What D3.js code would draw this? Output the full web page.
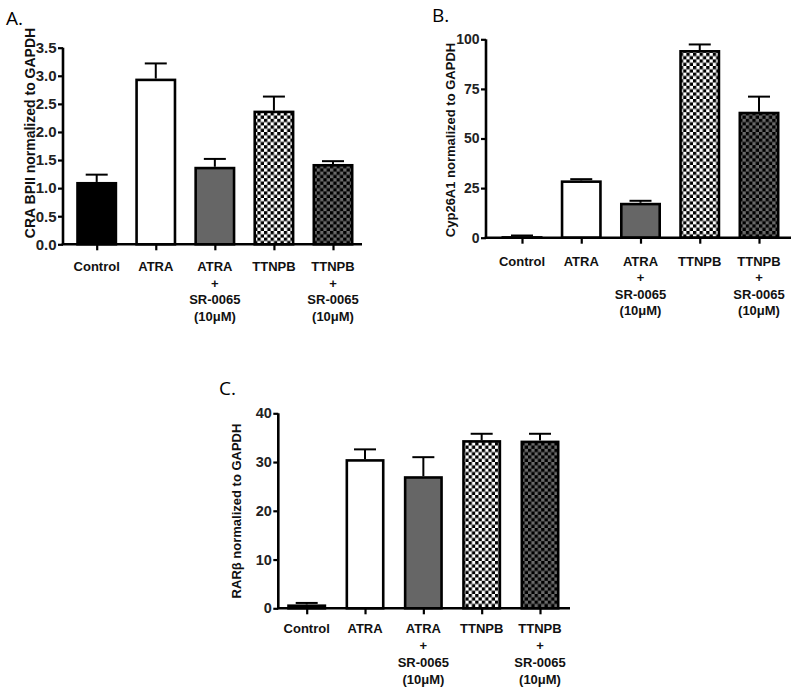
<!DOCTYPE html>
<html><head><meta charset="utf-8">
<script src="https://cdn.jsdelivr.net/npm/d3@7"></script>
<style>body{margin:0;background:#fff}svg{display:block}</style>
</head><body>
<script>
// ---- data ----
const categories = ["Control", "ATRA", "ATRA+SR", "TTNPB", "TTNPB+SR"];
const categoryLabels = [["Control"], ["ATRA"], ["ATRA", "+", "SR-0065", "(10\u03bcM)"], ["TTNPB"], ["TTNPB", "+", "SR-0065", "(10\u03bcM)"]];
const crabpiiValues = [1.11, 2.95, 1.38, 2.38, 1.43];
const crabpiiErrors = [0.13, 0.27, 0.14, 0.25, 0.05];
const crabpiiTicks = [0, 0.5, 1.0, 1.5, 2.0, 2.5, 3.0, 3.5];
const cypValues = [0.8, 28.9, 17.6, 94.6, 63.5];
const cypErrors = [0.3, 0.6, 1.0, 2.8, 7.6];
const cypTicks = [0, 25, 50, 75, 100];
const rarbValues = [0.8, 30.6, 27.1, 34.5, 34.4];
const rarbErrors = [0.3, 2.0, 3.9, 1.3, 1.4];
const rarbTicks = [0, 10, 20, 30, 40];
const fills = ["#000", "#fff", "#666", "url(#checkLight)", "url(#checkDark)"];

const svg = d3.select("body").append("svg").attr("width", 800).attr("height", 697);
const defs = svg.append("defs");
function checker(id, c1, c2, s) {
  const p = defs.append("pattern").attr("id", id).attr("patternUnits", "userSpaceOnUse")
    .attr("width", 2 * s).attr("height", 2 * s);
  p.append("rect").attr("width", 2 * s).attr("height", 2 * s).attr("fill", c2);
  p.append("rect").attr("width", s).attr("height", s).attr("fill", c1);
  p.append("rect").attr("x", s).attr("y", s).attr("width", s).attr("height", s).attr("fill", c1);
}
checker("checkLight", "#000", "#fff", 3.3);
checker("checkDark", "#000", "#6a6a6a", 3.3);

const tickFont = "'Liberation Sans', Arial, sans-serif";

function panel(o) {
  const g = svg.append("g");
  const y = d3.scaleLinear().domain([0, o.max]).range([o.yBottom, o.yTop]);
  const x = d3.scalePoint().domain(categories).range([o.c0, o.c1]);

  // bars
  const sw = 2.6;
  g.selectAll("rect.bar").data(categories).join("rect")
    .attr("x", d => x(d) - o.bw / 2 + sw / 2)
    .attr("width", o.bw - sw)
    .attr("y", (d, i) => y(o.values[i]) + sw / 2)
    .attr("height", (d, i) => Math.max(0, o.yBottom - y(o.values[i]) - sw / 2))
    .attr("fill", (d, i) => fills[i])
    .attr("stroke", "#000").attr("stroke-width", sw);

  // error bars (upper only)
  categories.forEach((d, i) => {
    const top = y(o.values[i] + o.errors[i]);
    g.append("line").attr("x1", x(d)).attr("x2", x(d))
      .attr("y1", y(o.values[i])).attr("y2", top)
      .attr("stroke", "#000").attr("stroke-width", 2);
    g.append("line").attr("x1", x(d) - 11).attr("x2", x(d) + 11)
      .attr("y1", top).attr("y2", top)
      .attr("stroke", "#000").attr("stroke-width", 2);
  });

  // y axis
  const ya = g.append("g").attr("transform", `translate(${o.axisX},0)`)
    .call(d3.axisLeft(y).tickValues(o.ticks).tickFormat(o.fmt).tickSize(5).tickPadding(1.5));
  ya.select(".domain").attr("stroke-width", 2.6).attr("d", `M0,${o.yTop}V${o.yBottom}`);
  ya.selectAll(".tick line").attr("stroke-width", 2.2);
  ya.selectAll(".tick text").attr("font-family", tickFont).attr("font-weight", "bold")
    .attr("font-size", o.tickSize).attr("fill", "#222");

  // x axis
  const xa = g.append("g").attr("transform", `translate(0,${o.yBottom})`)
    .call(d3.axisBottom(x).tickSize(6).tickFormat(""));
  xa.select(".domain").attr("stroke-width", 2.6).attr("d", `M${o.axisX - 1.3},0H${o.right}`);
  xa.selectAll(".tick line").attr("stroke-width", 2.2);

  // category labels
  categories.forEach((d, i) => {
    const t = g.append("text").attr("text-anchor", "middle")
      .attr("font-family", tickFont).attr("font-weight", "bold").attr("font-size", 13).attr("fill", "#111");
    categoryLabels[i].forEach((line, k) => {
      t.append("tspan").attr("x", x(d)).attr("y", o.yBottom + o.lab0 + k * o.labStep).text(line);
    });
  });

  // y title
  g.append("text").attr("transform", `translate(${o.titleX},${o.titleY}) rotate(-90)`)
    .attr("text-anchor", "middle").attr("font-family", tickFont).attr("font-weight", "bold")
    .attr("font-size", o.titleSize).attr("fill", "#111").text(o.title);

  // panel letter
  g.append("text").attr("x", o.letterX).attr("y", o.letterY)
    .attr("font-family", "'Open Sans', sans-serif").attr("font-size", 19).attr("fill", "#000").text(o.letter);
}

panel({values: crabpiiValues, errors: crabpiiErrors, ticks: crabpiiTicks, max: 3.5, fmt: d3.format(".1f"),
  axisX: 63, right: 362, yTop: 47.7, yBottom: 244.3, c0: 96.7, c1: 333, bw: 41, tickSize: 15,
  lab0: 27, labStep: 16.5, title: "CRA BPII normalized to GAPDH", titleX: 35, titleY: 133, titleSize: 14,
  letter: "A.", letterX: 6, letterY: 25});

panel({values: cypValues, errors: cypErrors, ticks: cypTicks, max: 100, fmt: d3.format("d"),
  axisX: 486, right: 791, yTop: 39.3, yBottom: 237.7, c0: 522, c1: 759, bw: 41, tickSize: 14,
  lab0: 28, labStep: 16.5, title: "Cyp26A1 normalized to GAPDH", titleX: 455, titleY: 140, titleSize: 13,
  letter: "B.", letterX: 432, letterY: 22});

panel({values: rarbValues, errors: rarbErrors, ticks: rarbTicks, max: 40, fmt: d3.format("d"),
  axisX: 278.3, right: 570, yTop: 413.3, yBottom: 608.3, c0: 306.7, c1: 540, bw: 39, tickSize: 14.5,
  lab0: 25, labStep: 17, title: "RAR\u03b2 normalized to GAPDH", titleX: 241, titleY: 511, titleSize: 13,
  letter: "C.", letterX: 219, letterY: 395});
</script>
</body></html>
